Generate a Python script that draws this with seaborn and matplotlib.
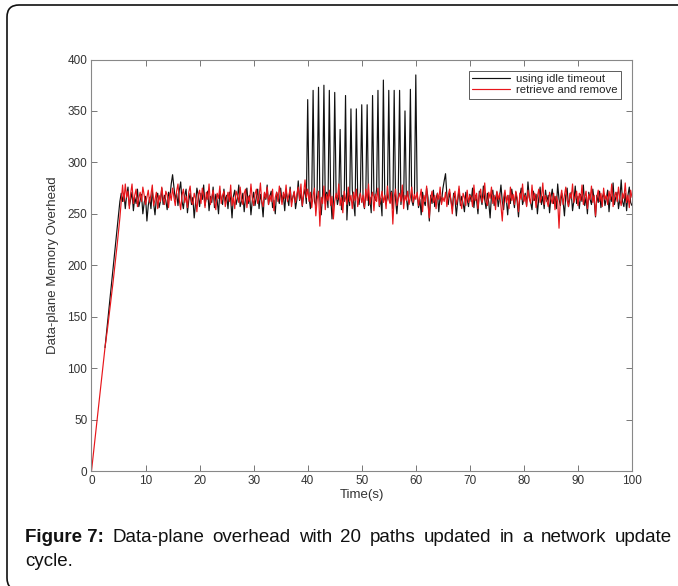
import numpy as np
import pandas as pd
import matplotlib
matplotlib.use("Agg")
import matplotlib.pyplot as plt
import seaborn as sns
from matplotlib.patches import FancyBboxPatch
from matplotlib.transforms import IdentityTransform

step = 0.25
series_names = ["using idle timeout", "retrieve and remove"]

idle_timeout = [None] * 10 + [
    120, 133, 146, 159, 172, 185, 198, 211, 224, 237, 250, 262, 270,
    262, 270, 255, 268, 276, 258, 264, 271, 253, 266, 260, 274, 257, 263, 269, 250, 261, 267,
    243, 258, 266, 255, 272, 260, 249, 265, 270, 256, 262, 275, 259, 268, 263, 254, 271, 266, 279, 288,
    276, 264, 270, 258, 273, 281, 262, 255, 268, 274, 251, 263, 270, 259, 266, 246, 261, 275, 268, 257,
    270, 264, 278, 258, 266, 272, 253, 267, 261, 276, 256, 269, 263, 250, 272, 265, 259, 274, 262, 268,
    255, 271, 264, 246, 267, 273, 259, 265, 278, 257, 262, 270, 252, 266, 275, 260, 268, 249, 263, 271,
    258, 266, 274, 255, 269, 262, 247, 270, 264, 278, 259, 267, 272, 256, 263, 250, 271, 266, 260, 275,
    262, 268, 253, 272, 265, 258, 276, 261, 266, 271, 255, 264, 282, 263, 270, 257, 268, 274, 260, 361,
    266, 255, 270, 370, 262, 258, 273, 373, 264, 249, 268, 375, 260, 271, 256, 370, 267, 245, 262, 368,
    271, 259, 266, 332, 254, 268, 262, 365, 244, 270, 258, 352, 273, 261, 248, 352, 266, 259, 272, 356,
    262, 255, 270, 356, 258, 266, 251, 365, 268, 263, 274, 370, 257, 265, 248, 380, 269, 260, 266, 370,
    261, 272, 255, 370, 264, 250, 268, 370, 259, 273, 262, 350, 266, 254, 270, 371, 263, 258, 267, 385,
    270, 256, 264, 249, 271, 262, 258, 275, 266, 243, 268, 260, 273, 257, 265, 270, 252, 267, 261, 274,
    282, 289, 268, 259, 271, 263, 255, 270, 265, 248, 262, 274, 258, 267, 260, 252, 271, 264, 257, 269,
    262, 275, 256, 268, 263, 250, 272, 266, 259, 277, 264, 255, 270, 261, 246, 268, 273, 258, 265, 271,
    257, 266, 278, 262, 254, 270, 264, 249, 268, 260, 274, 265, 256, 271, 262, 247, 267, 275, 259, 264,
    270, 258, 281, 266, 261, 254, 272, 263, 269, 250, 265, 276, 259, 267, 255, 273, 262, 268, 251, 266,
    274, 260, 267, 255, 279, 264, 258, 270, 262, 248, 268, 275, 257, 265, 271, 253, 263, 277, 260, 267,
    255, 269, 262, 278, 258, 266, 250, 271, 264, 259, 274, 263, 247, 268, 261, 272, 256, 266, 270, 258,
    265, 273, 252, 268, 262, 280, 259, 266, 271, 255, 264, 283, 262, 257, 270, 253, 268, 276, 261, 258,
]

retrieve_remove = [
    0, 12, 24, 36, 48, 60, 72, 84, 96, 108,
    120, 130, 140, 151, 162, 173, 184, 196, 208, 220, 233, 246, 262,
    278, 262, 279, 266, 272, 255, 270, 279, 260, 268, 274, 257, 265, 271, 262, 276, 268, 259,
    266, 273, 261, 269, 278, 258, 264, 271, 255, 268, 262, 276, 265, 259, 272, 268, 256, 270, 263, 275,
    266, 258, 272, 279, 263, 254, 268, 274, 261, 267, 256, 271, 277, 262, 259, 270, 265, 252, 268, 273,
    260, 275, 268, 256, 271, 264, 279, 259, 266, 273, 262, 254, 270, 265, 277, 260, 268, 272, 257, 264,
    271, 262, 278, 258, 266, 255, 272, 268, 261, 276, 264, 259, 270, 274, 256, 267, 262, 279, 265, 258,
    269, 274, 260, 266, 280, 262, 257, 271, 265, 276, 259, 268, 262, 274, 253, 266, 271, 262, 277, 268,
    259, 271, 265, 278, 262, 268, 274, 257, 266, 272, 261, 269, 276, 264, 279, 258, 270, 283, 266, 274,
    262, 271, 256, 268, 275, 248, 264, 272, 238, 266, 260, 277, 254, 269, 263, 273, 258, 267, 245, 262,
    270, 264, 279, 258, 266, 251, 272, 265, 259, 276, 262, 268, 255, 271, 263, 274, 257, 266, 270, 261,
    268, 256, 274, 263, 279, 259, 266, 271, 253, 269, 262, 275, 258, 265, 272, 261, 268, 255, 277, 264,
    260, 271, 240, 266, 274, 258, 265, 270, 262, 278, 255, 268, 263, 272, 259, 266, 276, 261, 269, 264,
    271, 258, 266, 274, 252, 268, 262, 277, 259, 246, 265, 272, 261, 268, 255, 270, 264, 276, 259, 266,
    262, 271, 257, 268, 274, 263, 250, 266, 272, 259, 265, 277, 262, 255, 270, 266, 258, 273, 261, 268,
    266, 257, 278, 263, 270, 255, 268, 274, 261, 266, 280, 262, 258, 271, 265, 276, 260, 268, 254, 272,
    264, 270, 258, 243, 266, 273, 261, 268, 255, 276, 263, 269, 259, 272, 266, 252, 270, 264, 279, 262,
    268, 257, 273, 265, 260, 278, 263, 270, 256, 267, 274, 261, 266, 280, 259, 268, 263, 257, 271, 265,
    260, 270, 254, 267, 262, 236, 265, 273, 259, 268, 276, 263, 257, 270, 265, 279, 261, 266, 272, 258,
    270, 263, 278, 259, 266, 272, 255, 269, 264, 277, 261, 268, 248, 266, 273, 262, 270, 257, 275, 264,
    268, 259, 272, 264, 279, 257, 267, 271, 262, 276, 264, 258, 270, 265, 280, 261, 268, 256, 273, 266,
]

x_ticks = [0, 10, 20, 30, 40, 50, 60, 70, 80, 90, 100]
y_ticks = [0, 50, 100, 150, 200, 250, 300, 350, 400]
x_label = "Time(s)"
y_label = "Data-plane Memory Overhead"
caption_bold = "Figure 7:"
caption_line1 = "Data-plane overhead with 20 paths updated in a network update"
caption_line2 = "cycle."

# ---------------- figure ----------------
sns.set_style("ticks")
plt.rcParams["font.family"] = ["Liberation Sans", "DejaVu Sans"]

W, H = 678, 586
fig = plt.figure(figsize=(W / 100, H / 100), dpi=100)
ax = fig.add_axes([91.5 / W, 1 - 471 / H, (632 - 91.5) / W, (471 - 59.5) / H])

df_idle = pd.DataFrame({"t": np.arange(len(idle_timeout)) * step,
                        "v": pd.to_numeric(pd.Series(idle_timeout), errors="coerce")}).dropna()
df_rr = pd.DataFrame({"t": np.arange(len(retrieve_remove)) * step,
                      "v": retrieve_remove})

sns.lineplot(data=df_idle, x="t", y="v", ax=ax, color="#111111", lw=0.85,
             estimator=None, sort=False, label=series_names[0])
sns.lineplot(data=df_rr, x="t", y="v", ax=ax, color="#e8161b", lw=0.85,
             estimator=None, sort=False, label=series_names[1])

ax.set_xlim(0, 100)
ax.set_ylim(0, 400)
ax.set_xticks(x_ticks)
ax.set_yticks(y_ticks)
ax.tick_params(direction="in", length=4, width=0.7, colors="#777777",
               labelcolor="#333333", labelsize=8.5, top=True, right=True, pad=3)
for s in ax.spines.values():
    s.set_visible(True)
    s.set_color("#888888")
    s.set_linewidth(0.8)
ax.set_xlabel(x_label, fontsize=9.5, color="#333333", labelpad=1)
ax.set_ylabel(y_label, fontsize=9.5, color="#333333", labelpad=6)

leg = ax.legend(loc="upper right", fontsize=8.2, frameon=True, fancybox=False,
                edgecolor="#333333", handlelength=3.3, handletextpad=0.5,
                borderpad=0.3, labelspacing=0.1, borderaxespad=1.0)
leg.get_frame().set_linewidth(0.7)
for txt in leg.get_texts():
    txt.set_color("#222222")

# outer rounded border (runs off the right and bottom edges)
border = FancyBboxPatch((7, -4), 760, 585, boxstyle="round,pad=0,rounding_size=12",
                        transform=IdentityTransform(), fill=False, edgecolor="#111111",
                        linewidth=1.2, clip_on=False)
fig.patches.append(border)

# justified caption line 1
renderer = fig.canvas.get_renderer()
fs = 13.5
left_px, right_px = 25, 672
y1 = H - 537
words = [(caption_bold, "bold")] + [(w, "normal") for w in caption_line1.split()]
texts = []
for w, weight in words:
    t = fig.text(0, y1 / H, w, fontsize=fs, fontweight=weight, va="center", ha="left",
                 color="#111111")
    texts.append(t)
widths = [t.get_window_extent(renderer).width for t in texts]
gap = (right_px - left_px - sum(widths)) / (len(texts) - 1)
x = left_px
for t, wd in zip(texts, widths):
    t.set_x(x / W)
    x += wd + gap
fig.text(left_px / W, (H - 561) / H, caption_line2, fontsize=fs, va="center",
         ha="left", color="#111111")

fig.savefig("out.png", dpi=100)
